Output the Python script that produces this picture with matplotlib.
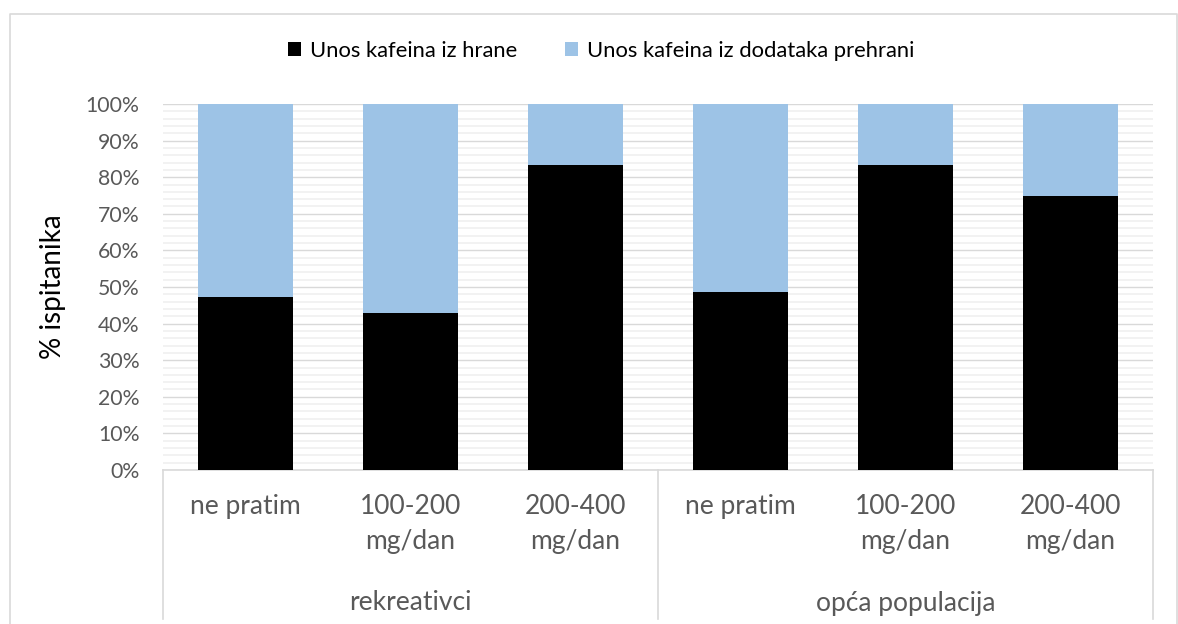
"""Caffeine intake source by declared daily intake, stacked 100% bars (two groups)."""
import matplotlib
matplotlib.use("Agg")
import matplotlib.pyplot as plt
import matplotlib.transforms as mtransforms
from matplotlib.lines import Line2D
from matplotlib.patches import Patch
import numpy as np

plt.rcParams["font.family"] = ["Lato", "DejaVu Sans"]

# --- Data ---
groups = ["rekreativci", "opća populacija"]
intake = ["ne pratim", "100-200\nmg/dan", "200-400\nmg/dan"]
food = [47.4, 42.9, 83.3, 48.7, 83.3, 75.0]          # Unos kafeina iz hrane
supplements = [100 - v for v in food]                  # Unos kafeina iz dodataka prehrani
series_names = ["Unos kafeina iz hrane", "Unos kafeina iz dodataka prehrani"]
colors = ["#000000", "#9dc3e6"]

W, H = 1178, 624
fig = plt.figure(figsize=(W / 100, H / 100), dpi=100)

# plot area in pixels
L, R, T, B = 163, 1153, 104, 470
ax = fig.add_axes([L / W, 1 - B / H, (R - L) / W, (B - T) / H])

x = np.arange(len(food))
ax.bar(x, food, width=0.57, color=colors[0], zorder=3)
ax.bar(x, supplements, bottom=food, width=0.57, color=colors[1], zorder=3)

ax.set_xlim(-0.5, len(food) - 0.5)
ax.set_ylim(0, 100)
ax.set_yticks(np.arange(0, 101, 10))
ax.set_yticks(np.arange(0, 101, 2), minor=True)
ax.set_yticklabels([f"{v}%" for v in range(0, 101, 10)])
ax.grid(axis="y", which="minor", color="#f0f0f0", lw=1.2, zorder=0)
ax.grid(axis="y", which="major", color="#d9d9d9", lw=1.0, zorder=1)
ax.tick_params(axis="y", which="both", length=0, labelsize=15.3, labelcolor="#595959", pad=17)
ax.tick_params(axis="x", which="both", length=0, labelbottom=False)
for s in ["top", "right", "left"]:
    ax.spines[s].set_visible(False)
ax.spines["bottom"].set_color("#d9d9d9")
ax.spines["bottom"].set_linewidth(1.2)
ax.set_ylabel("% ispitanika", fontsize=20, color="#000000", labelpad=14)

# two-level category axis
tr = mtransforms.blended_transform_factory(ax.transData, fig.transFigure)
for i in range(len(food)):
    ax.text(i, 1 - 494 / H, intake[i % 3], transform=tr, ha="center", va="top",
            fontsize=19, color="#595959", linespacing=1.5)
for g, name in enumerate(groups):
    ax.text(g * 3 + 1, 1 - 603 / H, name, transform=tr, ha="center", va="center",
            fontsize=19, color="#595959")
for xb in [-0.5, 2.5, 5.5]:
    ax.add_line(Line2D([xb, xb], [1 - 470 / H, 1 - 619 / H], color="#d9d9d9", lw=1.2,
                       transform=tr, clip_on=False))

# outer chart border (bottom edge falls outside the image)
fig.add_artist(Line2D([9.5 / W, 9.5 / W, 1177 / W, 1177 / W],
                      [0, 1 - 13.5 / H, 1 - 13.5 / H, 0],
                      transform=fig.transFigure, color="#d9d9d9", lw=1.2))

handles = [Patch(facecolor=c, edgecolor="none") for c in colors]
fig.legend(handles, series_names, loc="center", bbox_to_anchor=(601 / W, 1 - 51 / H),
           ncol=2, frameon=False, fontsize=15.8, handlelength=0.6, handleheight=0.6,
           handletextpad=0.4, columnspacing=2.2)

fig.savefig("out.png", dpi=100)
